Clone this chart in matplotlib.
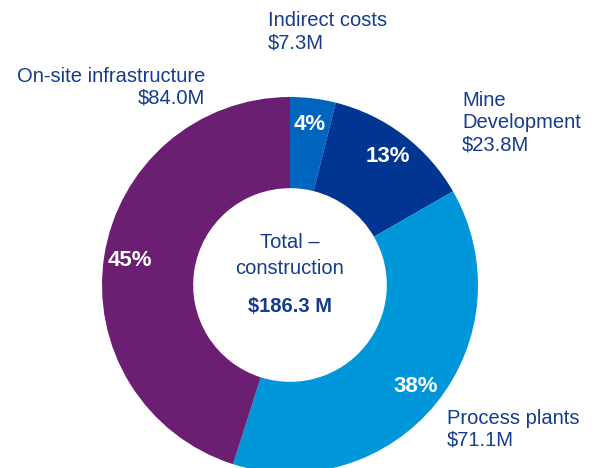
import matplotlib
matplotlib.use("Agg")
import matplotlib.pyplot as plt

plt.rcParams["font.family"] = ["Liberation Sans", "DejaVu Sans"]

# --- data ---
categories = ["Indirect costs", "Mine\nDevelopment", "Process plants", "On-site infrastructure"]
values = [7.3, 23.8, 71.1, 84.0]          # $M
colors = ["#0065bf", "#003591", "#0096da", "#6b1f73"]
total_label = "$186.3 M"

TEXT = "#143b8e"
W, H = 600, 468


def px(x, y):
    # pixel position (from top-left) -> figure fraction
    return x / W, 1 - y / H


fig = plt.figure(figsize=(6, 4.68), dpi=100)

# donut centre at (290, 285) px, outer radius 188 px
cx, cy, r = 290, 285, 188
ax = fig.add_axes([(cx - r) / W, (H - cy - r) / H, 2 * r / W, 2 * r / H])

wedges, _, pcts = ax.pie(
    values, colors=colors, startangle=90, counterclock=False, radius=1,
    autopct=lambda p: f"{p:.0f}%", pctdistance=0.86,
    wedgeprops=dict(width=0.485, edgecolor="none"),
    textprops=dict(color="white", fontsize=16, fontweight="bold"),
)
for w in wedges:
    w.set_clip_on(False)
ax.set_xlim(-1, 1)
ax.set_ylim(-1, 1)
ax.axis("off")

# centre text
fig.text(*px(290, 242), "Total \u2013", ha="center", va="center", fontsize=14.5, color=TEXT)
fig.text(*px(290, 268), "construction", ha="center", va="center", fontsize=14.5, color=TEXT)
fig.text(*px(290, 306), total_label, ha="center", va="center", fontsize=14.5,
         fontweight="bold", color=TEXT)

# outside labels
label_pos = [(268, 32, "left"), (462, 123, "left"), (447, 429, "left"), (205, 87, "right")]
for name, val, (x, y, ha) in zip(categories, values, label_pos):
    fig.text(*px(x, y), f"{name}\n${val:.1f}M", ha=ha, va="center", fontsize=14.5,
             color=TEXT, linespacing=1.2)

fig.savefig("out.png", dpi=100)
